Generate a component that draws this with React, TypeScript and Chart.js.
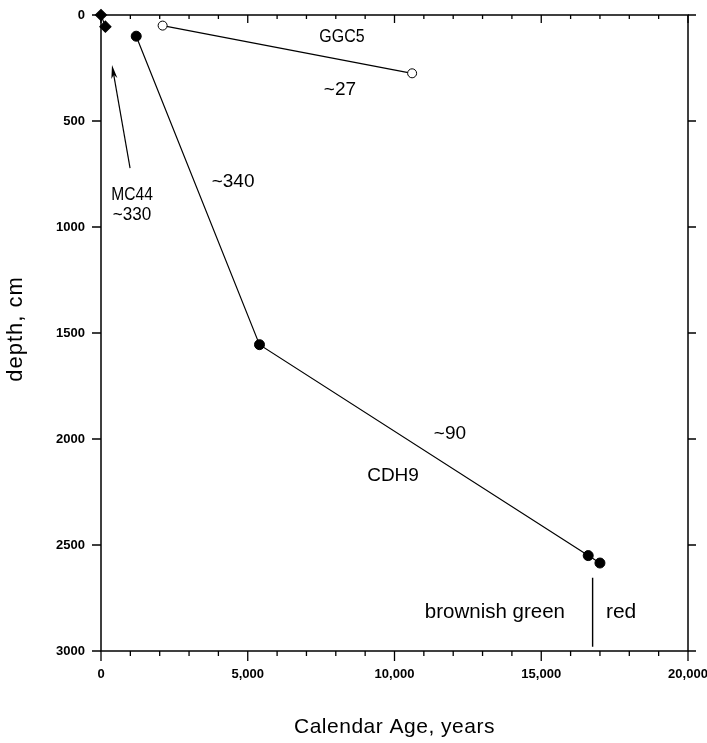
import React, { useEffect, useRef } from 'react';
import { Chart, registerables } from 'chart.js';

Chart.register(...registerables);

// ---- data (calendar age in years, depth in cm) ----
const cdh9Age = [1200, 5400, 16600, 17000];
const cdh9Depth = [100, 1555, 2550, 2585];
const ggc5Age = [2100, 10600];
const ggc5Depth = [50, 275];
const mc44Age = [0, 150];
const mc44Depth = [0, 55];
const boundaryAge = [16750, 16750];
const boundaryDepth = [2655, 2980];
const arrowAge = [990, 375]; // tail, tip
const arrowDepth = [722, 236];

const xTickValues = [0, 5000, 10000, 15000, 20000];
const yTickValues = [0, 500, 1000, 1500, 2000, 2500, 3000];

const xTitle = 'Calendar Age, years';
const yTitle = 'depth, cm';

const noteTexts = ['GGC5', '~27', '~340', 'MC44', '~330', '~90', 'CDH9', 'brownish green', 'red'];
const noteAge = [8210, 8140, 4500, 1060, 1060, 11890, 9950, 13420, 17720];
const noteDepth = [104, 354, 788, 849, 943, 1976, 2175, 2816, 2816];

// text styling for the notes (font size, horizontal stretch)
const noteFontSize = [19, 19, 19, 19, 19, 19, 19, 20.5, 21];
const noteStretch = [0.84, 1, 1, 0.82, 0.9, 1, 1, 1, 1];

const FONT = "'Liberation Sans', Arial, Helvetica, sans-serif";

const pts = (xs: number[], ys: number[]) => xs.map((x, i) => ({ x, y: ys[i] }));

const decorPlugin = {
  id: 'decor',
  afterDraw(chart: any) {
    const { ctx, chartArea: a, scales } = chart;
    const xs = scales.x;
    const ys = scales.y;
    ctx.save();
    ctx.strokeStyle = '#000';
    ctx.fillStyle = '#000';
    ctx.lineWidth = 1.5;
    ctx.strokeRect(a.left, a.top, a.right - a.left, a.bottom - a.top);

    // x ticks: every 1000, majors every 5000
    ctx.lineWidth = 1.3;
    for (let v = xs.min; v <= xs.max; v += 1000) {
      const px = xs.getPixelForValue(v);
      const major = xTickValues.includes(v);
      ctx.beginPath();
      ctx.moveTo(px, a.bottom);
      ctx.lineTo(px, a.bottom + (major ? 10 : 5));
      ctx.moveTo(px, a.top);
      ctx.lineTo(px, a.top + (major ? 8 : 4));
      ctx.stroke();
    }
    // y ticks
    for (const v of yTickValues) {
      const py = ys.getPixelForValue(v);
      ctx.beginPath();
      ctx.moveTo(a.left, py);
      ctx.lineTo(a.left - 9, py);
      ctx.moveTo(a.right, py);
      ctx.lineTo(a.right + 8, py);
      ctx.stroke();
    }

    // arrow
    const tx = xs.getPixelForValue(arrowAge[0]);
    const ty = ys.getPixelForValue(arrowDepth[0]);
    const hx = xs.getPixelForValue(arrowAge[1]);
    const hy = ys.getPixelForValue(arrowDepth[1]);
    const ang = Math.atan2(hy - ty, hx - tx);
    ctx.lineWidth = 1.2;
    ctx.beginPath();
    ctx.moveTo(tx, ty);
    ctx.lineTo(hx - Math.cos(ang) * 6, hy - Math.sin(ang) * 6);
    ctx.stroke();
    const L = 14;
    const W = 0.22;
    ctx.beginPath();
    ctx.moveTo(hx, hy);
    ctx.lineTo(hx - L * Math.cos(ang - W), hy - L * Math.sin(ang - W));
    ctx.lineTo(hx - L * 0.7 * Math.cos(ang), hy - L * 0.7 * Math.sin(ang));
    ctx.lineTo(hx - L * Math.cos(ang + W), hy - L * Math.sin(ang + W));
    ctx.closePath();
    ctx.fill();

    // notes
    ctx.textAlign = 'center';
    ctx.textBaseline = 'middle';
    noteTexts.forEach((t, i) => {
      ctx.save();
      ctx.font = `${noteFontSize[i]}px ${FONT}`;
      ctx.translate(xs.getPixelForValue(noteAge[i]), ys.getPixelForValue(noteDepth[i]));
      ctx.scale(noteStretch[i], 1);
      ctx.fillText(t, 0, 0);
      ctx.restore();
    });

    // axis titles
    ctx.textBaseline = 'alphabetic';
    ctx.font = `21px ${FONT}`;
    (ctx as any).letterSpacing = '0.5px';
    ctx.fillText(xTitle, (a.left + a.right) / 2, 733);
    ctx.save();
    ctx.font = `22px ${FONT}`;
    (ctx as any).letterSpacing = '1px';
    ctx.translate(22, 329);
    ctx.rotate(-Math.PI / 2);
    ctx.fillText(yTitle, 0, 0);
    ctx.restore();
    ctx.restore();
  },
};

export default function App() {
  const ref = useRef<HTMLCanvasElement | null>(null);
  useEffect(() => {
    document.body.style.margin = '0';
    const canvas = ref.current;
    if (!canvas) return;
    const chart = new Chart(canvas, {
      type: 'scatter',
      data: {
        datasets: [
          {
            label: 'CDH9',
            data: pts(cdh9Age, cdh9Depth),
            showLine: true,
            borderColor: '#000',
            borderWidth: 1.2,
            pointRadius: 5,
            pointBackgroundColor: '#000',
            pointBorderColor: '#000',
            pointBorderWidth: 1,
            clip: false,
          },
          {
            label: 'GGC5',
            data: pts(ggc5Age, ggc5Depth),
            showLine: true,
            borderColor: '#000',
            borderWidth: 1.2,
            pointRadius: 4.5,
            pointBackgroundColor: '#fff',
            pointBorderColor: '#000',
            pointBorderWidth: 1,
            clip: false,
          },
          {
            label: 'MC44',
            data: pts(mc44Age, mc44Depth),
            showLine: true,
            borderColor: '#000',
            borderWidth: 1.2,
            pointStyle: 'rectRot',
            pointRadius: 5.5,
            pointBackgroundColor: '#000',
            pointBorderColor: '#000',
            clip: false,
          },
          {
            label: 'boundary',
            data: pts(boundaryAge, boundaryDepth),
            showLine: true,
            borderColor: '#000',
            borderWidth: 1.4,
            pointRadius: 0,
            clip: false,
          },
        ],
      },
      options: {
        responsive: true,
        maintainAspectRatio: false,
        animation: false,
        events: [],
        layout: { padding: { top: 15, right: 19, left: 0, bottom: 0 } },
        plugins: { legend: { display: false }, tooltip: { enabled: false } },
        scales: {
          x: {
            type: 'linear',
            position: 'bottom',
            min: 0,
            max: 20000,
            afterBuildTicks: (s: any) => {
              s.ticks = xTickValues.map((v) => ({ value: v }));
            },
            afterFit: (s: any) => {
              s.height = 92;
              s.paddingRight = 0;
              s.paddingLeft = 0;
            },
            ticks: {
              color: '#000',
              font: { family: FONT, size: 13, weight: 'bold' },
              padding: 6,
              maxRotation: 0,
              autoSkip: false,
              callback: (v: any) => Number(v).toLocaleString('en-US'),
            },
            grid: { drawOnChartArea: false, drawTicks: true, tickLength: 10, color: 'rgba(0,0,0,0)' },
            border: { display: false },
          },
          y: {
            type: 'linear',
            reverse: true,
            min: 0,
            max: 3000,
            afterBuildTicks: (s: any) => {
              s.ticks = yTickValues.map((v) => ({ value: v }));
            },
            afterFit: (s: any) => {
              s.width = 101;
              s.paddingTop = 0;
              s.paddingBottom = 0;
            },
            ticks: {
              color: '#000',
              font: { family: FONT, size: 13, weight: 'bold' },
              padding: 7,
              autoSkip: false,
              callback: (v: any) => String(v),
            },
            grid: { drawOnChartArea: false, drawTicks: true, tickLength: 9, color: 'rgba(0,0,0,0)' },
            border: { display: false },
          },
        },
      },
      plugins: [decorPlugin],
    });
    return () => chart.destroy();
  }, []);
  return (
    <div style={{ position: 'relative', width: 707, height: 743 }}>
      <canvas ref={ref} />
    </div>
  );
}
